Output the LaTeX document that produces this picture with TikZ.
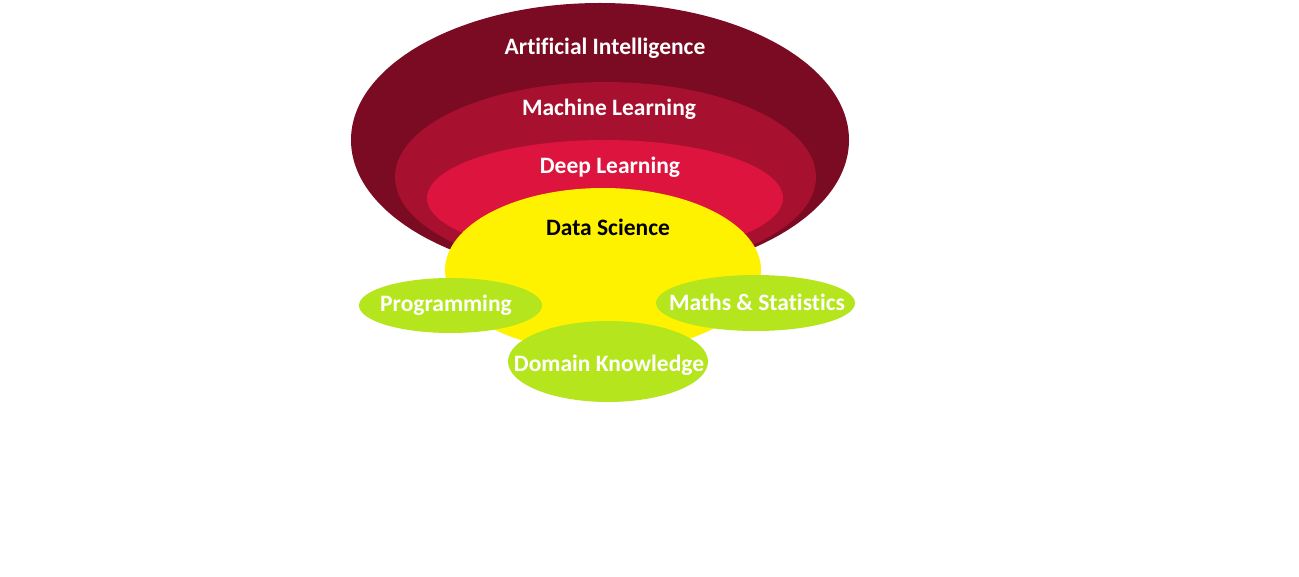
\documentclass[tikz,border=0pt]{standalone}
\usepackage{fontspec}
\setmainfont{Carlito}[Ligatures={NoCommon,NoContextual}]
\usetikzlibrary{shapes.geometric}

\definecolor{aicolor}{HTML}{7A0B22}
\definecolor{mlcolor}{HTML}{A81030}
\definecolor{dlcolor}{HTML}{DC143E}
\definecolor{dscolor}{HTML}{FFF200}
\definecolor{skillcolor}{HTML}{B5E61D}

\begin{document}
\begin{tikzpicture}[x=1pt, y=-1pt,
    field/.style={ellipse, inner sep=0pt, draw=none},
    skill/.style={field, fill=skillcolor},
    fieldlabel/.style={text=white, inner sep=0pt, anchor=base, font=\bfseries\fontsize{23.5}{25}\selectfont}]

% --- Canvas ---
\useasboundingbox[fill=white] (0,0) rectangle (1299,577);

% --- Nested fields (outermost first) ---
\node[field, fill=aicolor, minimum width=498pt, minimum height=274pt] (ai) at (600,140) {};
\node[field, fill=mlcolor, minimum width=421pt, minimum height=190pt] (ml) at (605.5,177) {};
\node[field, fill=dlcolor, minimum width=356pt, minimum height=116pt] (dl) at (605,198) {};
\node[field, fill=dscolor, minimum width=316pt, minimum height=164pt] (ds) at (603,270) {};

% --- Field labels (placed on their baselines) ---
\node[fieldlabel] (ailabel) at (605,55) {Artificial Intelligence};
\node[fieldlabel] (mllabel) at (609,116) {Machine Learning};
\node[fieldlabel] (dllabel) at (610,174) {Deep Learning};
\node[fieldlabel, text=black] (dslabel) at (608,236) {Data Science};

% --- Skills ---
\node[skill, minimum width=183pt, minimum height=55pt] (prog) at (450.5,305.5) {};
\node[skill, minimum width=199pt, minimum height=56pt] (maths) at (755.5,303) {};
\node[skill, minimum width=200pt, minimum height=81pt] (domain) at (608,361.5) {};

\node[fieldlabel] (proglabel) at (446,312) {Programming};
\node[fieldlabel] (mathslabel) at (757,311) {Maths \& Statistics};
\node[fieldlabel] (domainlabel) at (609,371) {Domain Knowledge};

\end{tikzpicture}
\end{document}
